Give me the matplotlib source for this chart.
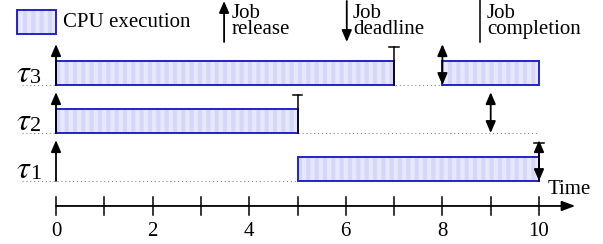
import matplotlib
matplotlib.use("Agg")
import matplotlib.pyplot as plt

plt.rcParams["font.family"] = "serif"
plt.rcParams["font.serif"] = ["Liberation Serif", "DejaVu Serif"]
plt.rcParams["mathtext.fontset"] = "stix"
plt.rcParams["hatch.linewidth"] = 3.0

# task rows, bottom to top
tasks = ["1", "2", "3"]
executions = [[(5, 10)], [(0, 5)], [(0, 7), (8, 10)]]
releases = [[0, 10], [0, 9], [0, 8]]
deadlines = [[10], [9], [8]]
completions = [[10], [5], [7]]
dotted_end = [10, 10, 10]
ticks = list(range(0, 11))
tick_labels = [str(t) if t % 2 == 0 else "" for t in ticks]

FACE = "#d6d6f8"
STRIPE = "#e8e8fc"
EDGE = "#2222cc"
BAR_H = 0.5
ARROW_H = 0.85
CAP_H = 0.8
AX_Y = -0.52

fig = plt.figure(figsize=(6.03, 2.44), dpi=100)
ax = fig.add_axes([0, 0, 1, 1])
ax.set_xlim(-56 / 48.3, (603 - 56) / 48.3)
ax.set_ylim((181 - 244) / 48, 181 / 48)
ax.axis("off")

arrow_up = dict(arrowstyle="-|>,head_length=0.7,head_width=0.3", lw=1.3,
                color="black", shrinkA=0, shrinkB=0)
arrow_both = dict(arrowstyle="<|-|>,head_length=0.7,head_width=0.3", lw=1.3,
                  color="black", shrinkA=0, shrinkB=0)


def striped_box(x0, w, y0, h):
    ax.bar(x0, h, width=w, bottom=y0, align="edge", color=FACE,
           edgecolor=STRIPE, linewidth=0, hatch="||", zorder=2)
    ax.bar(x0, h, width=w, bottom=y0, align="edge", fill=False,
           edgecolor=EDGE, linewidth=1.4, zorder=3)


for row, name in enumerate(tasks):
    ax.plot([-0.7, dotted_end[row]], [row, row], ls=(0, (1, 2.5)), lw=0.8,
            color="#888888", zorder=1)
    ax.text(-0.83, row + 0.07, "$\\tau$", fontsize=23, ha="left",
            va="baseline")
    ax.text(-0.53, row + 0.04, name, fontsize=16, ha="left", va="baseline")
    for s, e in executions[row]:
        striped_box(s, e - s, row, BAR_H)
    for t in releases[row]:
        if t in deadlines[row]:
            ax.annotate("", xy=(t, row), xytext=(t, row + ARROW_H),
                        arrowprops=arrow_both, zorder=4)
        else:
            ax.annotate("", xy=(t, row + ARROW_H), xytext=(t, row),
                        arrowprops=arrow_up, zorder=4)
    for t in completions[row]:
        ax.plot([t, t], [row, row + CAP_H], color="black", lw=1.1, zorder=4)
        ax.plot([t - 0.1, t + 0.1], [row + CAP_H] * 2, color="black", lw=1.1,
                zorder=4)

# time axis
ax.annotate("", xy=(10.75, AX_Y), xytext=(0, AX_Y),
            arrowprops=dict(arrowstyle="-|>,head_length=0.8,head_width=0.3",
                            lw=1.3, color="black", shrinkA=0, shrinkB=0))
for t, lab in zip(ticks, tick_labels):
    ax.plot([t, t], [AX_Y - 0.18, AX_Y + 0.18], color="black", lw=1.1)
    ax.text(t, (181 - 232) / 48, lab, fontsize=15, ha="center", va="center")
ax.text(10.18, (181 - 190) / 48, "Time", fontsize=15, ha="left", va="center")

# legend
striped_box(-0.8, 0.8, (181 - 34) / 48, 24 / 48)
ax.text(0.14, (181 - 22) / 48, "CPU execution", fontsize=15, ha="left",
        va="center")
top = (181 - 1) / 48
low = (181 - 42) / 48
ax.annotate("", xy=(3.48, top), xytext=(3.48, low), arrowprops=arrow_up)
ax.text(3.63, (181 - 4) / 48, "Job\nrelease", fontsize=15, ha="left",
        va="top", linespacing=0.78)
ax.annotate("", xy=(6.02, low), xytext=(6.02, top), arrowprops=arrow_up)
ax.text(6.15, (181 - 4) / 48, "Job\ndeadline", fontsize=15, ha="left",
        va="top", linespacing=0.78)
ax.plot([8.78, 8.78], [low, top + 0.05], color="black", lw=1.1)
ax.text(8.92, (181 - 4) / 48, "Job\ncompletion", fontsize=15, ha="left",
        va="top", linespacing=0.78)

fig.savefig("out.png", dpi=100)
